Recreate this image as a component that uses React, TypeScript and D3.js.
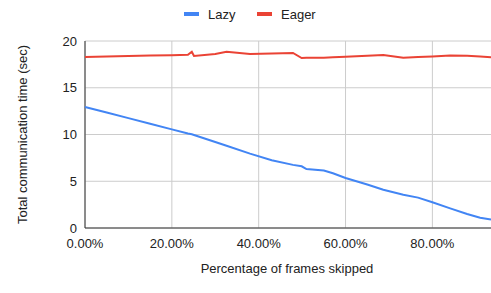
import React from "react";
import * as d3 from "d3";

const xValues = [0, 0.05, 0.10, 0.15, 0.20, 0.237, 0.246, 0.251, 0.30, 0.326, 0.38, 0.43, 0.479, 0.499, 0.51, 0.55, 0.571, 0.60, 0.65, 0.687, 0.733, 0.767, 0.80, 0.841, 0.88, 0.91, 0.935];
const lazy = [12.95, 12.35, 11.75, 11.15, 10.55, 10.1, 10.02, 9.95, 9.2, 8.8, 7.95, 7.25, 6.75, 6.6, 6.3, 6.15, 5.85, 5.35, 4.65, 4.1, 3.55, 3.25, 2.75, 2.1, 1.5, 1.1, 0.9];
const eager = [18.3, 18.35, 18.4, 18.45, 18.48, 18.52, 18.85, 18.4, 18.62, 18.85, 18.6, 18.65, 18.72, 18.18, 18.2, 18.22, 18.25, 18.32, 18.42, 18.5, 18.2, 18.28, 18.35, 18.45, 18.42, 18.35, 18.25];
const yTicks = [0, 5, 10, 15, 20];
const xTicks = [0, 0.2, 0.4, 0.6, 0.8];
const seriesNames = ["Lazy", "Eager"];
const colors = ["#4285F4", "#EA4335"];

export default function App() {
  const W = 491, H = 293;
  const left = 85, right = 491, top = 41, bottom = 228;
  const x = d3.scaleLinear().domain([0, 0.935]).range([left, right]);
  const y = d3.scaleLinear().domain([0, 20]).range([bottom, top]);
  const line = d3.line<number>().x((_, i) => x(xValues[i])).y((d) => y(d));
  const font = "Arial, 'Liberation Sans', sans-serif";
  const legendPos = [{ sx: 184, tx: 208 }, { sx: 257, tx: 281 }];
  return (
    <svg width={W} height={H} style={{ position: "absolute", left: 0, top: 0, background: "#fff" }} fontFamily={font}>
      {yTicks.map((t) => (
        <g key={"y" + t}>
          <line x1={left} x2={right} y1={y(t)} y2={y(t)} stroke="#cccccc" strokeWidth={1} />
          <text x={77} y={y(t) + 4.5} textAnchor="end" fontSize={13} fill="#222">{t}</text>
        </g>
      ))}
      {xTicks.map((t) => (
        <g key={"x" + t}>
          <line x1={x(t)} x2={x(t)} y1={top} y2={bottom} stroke="#cccccc" strokeWidth={1} />
          <text x={x(t)} y={248} textAnchor="middle" fontSize={13} fill="#222">{(t * 100).toFixed(2) + "%"}</text>
        </g>
      ))}
      <line x1={left} x2={left} y1={top} y2={bottom} stroke="#333" strokeWidth={1} />
      <line x1={left} x2={right} y1={bottom} y2={bottom} stroke="#333" strokeWidth={1} />
      <path d={line(lazy) || ""} fill="none" stroke={colors[0]} strokeWidth={2} />
      <path d={line(eager) || ""} fill="none" stroke={colors[1]} strokeWidth={2} />
      {seriesNames.map((n, i) => (
        <g key={n}>
          <rect x={legendPos[i].sx} y={12} width={15} height={4} fill={colors[i]} />
          <text x={legendPos[i].tx} y={19} fontSize={13} fill="#222">{n}</text>
        </g>
      ))}
      <text transform={`translate(27, ${(top + bottom) / 2}) rotate(-90)`} textAnchor="middle" fontSize={13} fill="#222">Total communication time (sec)</text>
      <text x={287} y={273} textAnchor="middle" fontSize={13} fill="#222">Percentage of frames skipped</text>
    </svg>
  );
}
